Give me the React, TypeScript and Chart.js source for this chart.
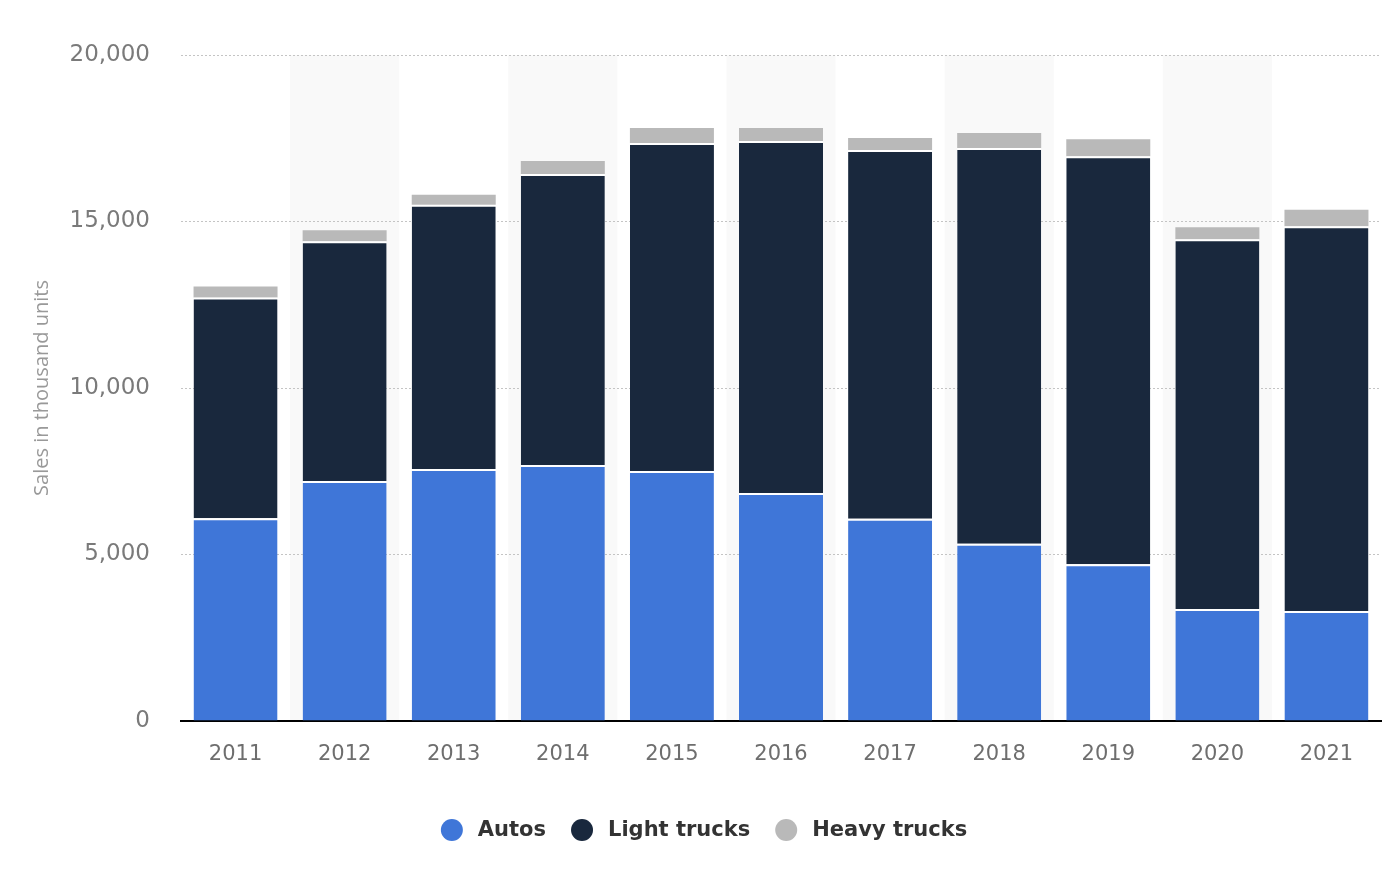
import React, { useEffect, useRef } from "react";
import { Chart, registerables } from "chart.js";

Chart.register(...registerables);

const years = ["2011", "2012", "2013", "2014", "2015", "2016", "2017", "2018", "2019", "2020", "2021"];
const autos = [6090, 7210, 7570, 7690, 7510, 6850, 6070, 5320, 4710, 3360, 3300];
const lightTrucks = [6630, 7200, 7930, 8740, 9850, 10570, 11080, 11890, 12250, 11110, 11560];
const heavyTrucks = [330, 330, 300, 390, 450, 390, 360, 450, 510, 360, 490];
const yTicks = [0, 5000, 10000, 15000, 20000];
const seriesNames = ["Autos", "Light trucks", "Heavy trucks"];
const seriesColors = ["#3f76d8", "#19283d", "#b9b9b9"];

const bandPlugin = {
  id: "bands",
  beforeDraw(chart: any) {
    const { ctx, chartArea, scales } = chart;
    const x = scales.x;
    const w = x.width / years.length;
    ctx.save();
    ctx.fillStyle = "#f9f9f9";
    years.forEach((_, i) => {
      if (i % 2 === 1) {
        const c = x.getPixelForValue(i);
        ctx.fillRect(c - w / 2, chartArea.top, w, chartArea.bottom - chartArea.top);
      }
    });
    ctx.restore();
  },
};

const legendPlugin = {
  id: "customLegend",
  afterDraw(chart: any) {
    const { ctx, width } = chart;
    const r = 11;
    const gapText = 15;
    const gapItem = 25;
    const cy = 830;
    ctx.save();
    ctx.font = "bold 21px 'DejaVu Sans'";
    ctx.textBaseline = "middle";
    ctx.textAlign = "left";
    const widths = seriesNames.map((n) => ctx.measureText(n).width);
    const total =
      widths.reduce((a, b) => a + b, 0) + seriesNames.length * (2 * r + gapText) + (seriesNames.length - 1) * gapItem;
    let x = width / 2 - total / 2 + 4;
    seriesNames.forEach((n, i) => {
      ctx.fillStyle = seriesColors[i];
      ctx.beginPath();
      ctx.arc(x + r, cy, r, 0, Math.PI * 2);
      ctx.fill();
      ctx.fillStyle = "#333333";
      ctx.fillText(n, x + 2 * r + gapText, cy + 1);
      x += 2 * r + gapText + widths[i] + gapItem;
    });
    ctx.restore();
  },
};

export default function App() {
  const ref = useRef<HTMLCanvasElement>(null);
  useEffect(() => {
    document.body.style.margin = "0";
    const chart = new Chart(ref.current!, {
      type: "bar",
      data: {
        labels: years,
        datasets: [
          {
            label: seriesNames[0],
            data: autos,
            backgroundColor: seriesColors[0],
            borderColor: "#ffffff",
            borderWidth: { top: 2, left: 0, right: 0, bottom: 0 },
            borderSkipped: false,
          },
          {
            label: seriesNames[1],
            data: lightTrucks,
            backgroundColor: seriesColors[1],
            borderColor: "#ffffff",
            borderWidth: { top: 2, left: 0, right: 0, bottom: 0 },
            borderSkipped: false,
          },
          {
            label: seriesNames[2],
            data: heavyTrucks,
            backgroundColor: seriesColors[2],
            borderWidth: 0,
          },
        ],
      },
      options: {
        responsive: false,
        animation: false,
        devicePixelRatio: 1,
        layout: { padding: { left: 30, right: 19, top: 55, bottom: 68 } },
        datasets: { bar: { categoryPercentage: 1, barPercentage: 0.77 } },
        plugins: {
          tooltip: { enabled: false },
          legend: { display: false },
        },
        scales: {
          x: {
            stacked: true,
            grid: { display: false },
            border: { display: true, color: "#000000", width: 2 },
            ticks: {
              color: "#6e6e6e",
              padding: 13,
              font: { family: "DejaVu Sans", size: 21 },
            },
            afterFit(scale: any) {
              scale.height = 85;
            },
          },
          y: {
            stacked: true,
            min: 0,
            max: 20000,
            afterBuildTicks(scale: any) {
              scale.ticks = yTicks.map((v) => ({ value: v }));
            },
            grid: {
              color: "#c4c4c4",
              lineWidth: 1,
              drawTicks: false,
            },
            border: { display: false, dash: [2, 2] },
            ticks: {
              color: "#7a7a7a",
              padding: 31,
              font: { family: "DejaVu Sans", size: 23 },
              callback: (v: any) => Number(v).toLocaleString("en-US"),
            },
            title: {
              display: true,
              text: "Sales in thousand units",
              color: "#999999",
              padding: 0,
              font: { family: "Open Sans", size: 20 },
            },
            afterFit(scale: any) {
              scale.width = 151;
            },
          },
        },
      },
      plugins: [bandPlugin, legendPlugin],
    });
    return () => chart.destroy();
  }, []);
  return <canvas ref={ref} width={1400} height={874} />;
}
